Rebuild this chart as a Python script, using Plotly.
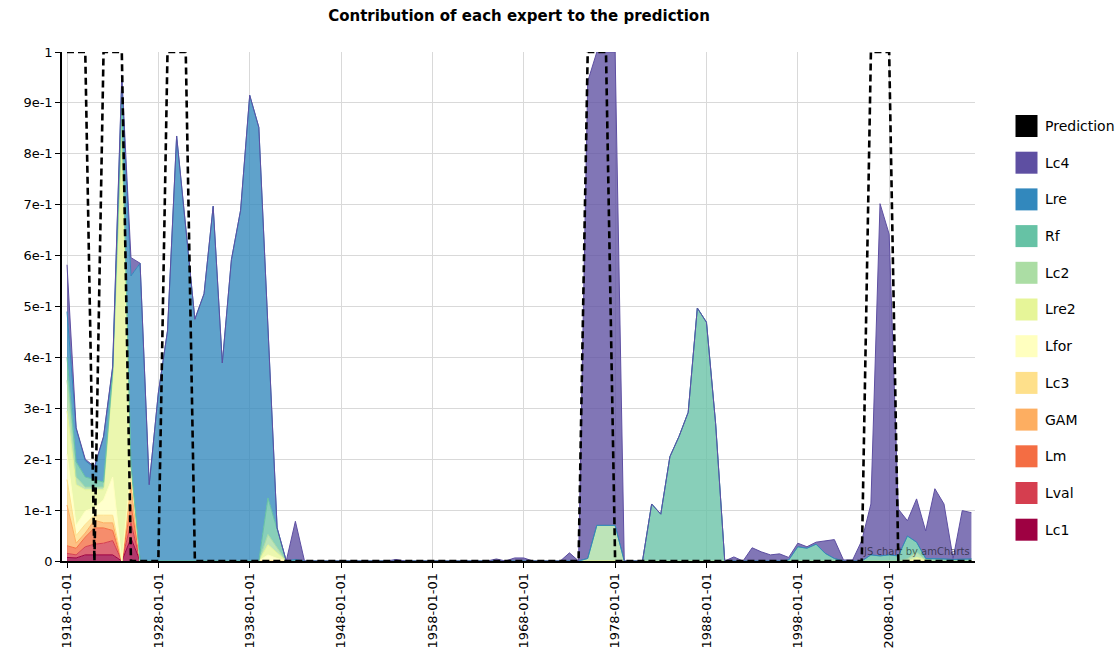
import plotly.graph_objects as go

# ---------------- data (1918 .. 2017, yearly) ----------------
first_year = 1918
n_years = 100
dates = [f"{first_year + i}-01-01" for i in range(n_years)]

Lc1 = [0.007, 0.006, 0.012, 0.012, 0.012, 0.012, 0, 0.045, 0, 0,
       0, 0, 0, 0, 0, 0, 0, 0, 0, 0,
       0, 0, 0, 0, 0, 0, 0, 0, 0, 0,
       0, 0, 0, 0, 0, 0, 0, 0, 0, 0,
       0, 0, 0, 0, 0, 0, 0, 0, 0, 0,
       0, 0, 0, 0, 0, 0, 0, 0, 0, 0,
       0, 0, 0, 0, 0, 0, 0, 0, 0, 0,
       0, 0, 0, 0, 0, 0, 0, 0, 0, 0,
       0, 0, 0, 0, 0, 0, 0, 0, 0, 0,
       0, 0, 0, 0, 0, 0, 0, 0, 0, 0]
Lval = [0.008, 0.006, 0.016, 0.021, 0.023, 0.028, 0, 0.03, 0, 0,
        0, 0, 0, 0, 0, 0, 0, 0, 0, 0,
        0, 0, 0, 0, 0, 0, 0, 0, 0, 0,
        0, 0, 0, 0, 0, 0, 0, 0, 0, 0,
        0, 0, 0, 0, 0, 0, 0, 0, 0, 0,
        0, 0, 0, 0, 0, 0, 0, 0, 0, 0,
        0, 0, 0, 0, 0, 0, 0, 0, 0, 0,
        0, 0, 0, 0, 0, 0, 0, 0, 0, 0,
        0, 0, 0, 0, 0, 0, 0, 0, 0, 0,
        0, 0, 0, 0, 0, 0, 0, 0, 0, 0]
Lm = [0.015, 0.013, 0.019, 0.032, 0.03, 0.02, 0, 0.035, 0, 0,
      0, 0, 0, 0, 0, 0, 0, 0, 0, 0,
      0, 0, 0, 0, 0, 0, 0, 0, 0, 0,
      0, 0, 0, 0, 0, 0, 0, 0, 0, 0,
      0, 0, 0, 0, 0, 0, 0, 0, 0, 0,
      0, 0, 0, 0, 0, 0, 0, 0, 0, 0,
      0, 0, 0, 0, 0, 0, 0, 0, 0, 0,
      0, 0, 0, 0, 0, 0, 0, 0, 0, 0,
      0, 0, 0, 0, 0, 0, 0, 0, 0, 0,
      0, 0, 0, 0, 0, 0, 0, 0, 0, 0]
GAM = [0.08, 0.01, 0.008, 0.015, 0.01, 0.015, 0, 0.04, 0, 0,
       0, 0, 0, 0, 0, 0, 0, 0, 0, 0,
       0, 0, 0, 0, 0, 0, 0, 0, 0, 0,
       0, 0, 0, 0, 0, 0, 0, 0, 0, 0,
       0, 0, 0, 0, 0, 0, 0, 0, 0, 0,
       0, 0, 0, 0, 0, 0, 0, 0, 0, 0,
       0, 0, 0, 0, 0, 0, 0, 0, 0, 0,
       0, 0, 0, 0, 0, 0, 0, 0, 0, 0,
       0, 0, 0, 0, 0, 0, 0, 0, 0, 0,
       0, 0, 0, 0, 0, 0, 0, 0, 0, 0]
Lc3 = [0.05, 0.015, 0.017, 0.01, 0.015, 0.015, 0, 0.02, 0, 0,
       0, 0, 0, 0, 0, 0, 0, 0, 0, 0,
       0, 0, 0, 0, 0, 0, 0, 0, 0, 0,
       0, 0, 0, 0, 0, 0, 0, 0, 0, 0,
       0, 0, 0, 0, 0, 0, 0, 0, 0, 0,
       0, 0, 0, 0, 0, 0, 0, 0, 0, 0,
       0, 0, 0, 0, 0, 0, 0, 0, 0, 0,
       0, 0, 0, 0, 0, 0, 0, 0, 0, 0,
       0, 0, 0, 0, 0, 0, 0, 0, 0, 0,
       0, 0, 0, 0, 0, 0, 0, 0, 0, 0]
Lfor = [0.05, 0.02, 0.026, 0.015, 0.03, 0.075, 0, 0.01, 0, 0,
        0, 0, 0, 0, 0, 0, 0, 0, 0, 0,
        0, 0, 0.012, 0.005, 0, 0, 0, 0, 0, 0,
        0, 0, 0, 0, 0, 0, 0, 0, 0, 0,
        0, 0, 0, 0, 0, 0, 0, 0, 0, 0,
        0, 0, 0, 0, 0, 0, 0, 0, 0, 0,
        0, 0, 0, 0, 0, 0, 0, 0, 0, 0,
        0, 0, 0, 0, 0, 0, 0, 0, 0, 0,
        0, 0, 0, 0, 0, 0, 0, 0, 0, 0,
        0, 0, 0, 0, 0, 0, 0, 0, 0, 0]
Lre2 = [0.085, 0.08, 0.042, 0.035, 0.02, 0.195, 0.84, 0.01, 0, 0,
        0, 0, 0, 0, 0, 0, 0, 0, 0, 0,
        0, 0, 0.02, 0.01, 0, 0, 0, 0, 0, 0,
        0, 0, 0, 0, 0, 0, 0, 0, 0, 0,
        0, 0, 0, 0, 0, 0, 0, 0, 0, 0,
        0, 0, 0, 0, 0, 0, 0, 0, 0, 0,
        0, 0, 0, 0, 0, 0, 0, 0, 0, 0,
        0, 0, 0, 0, 0, 0, 0, 0, 0, 0,
        0, 0, 0, 0, 0, 0, 0, 0, 0, 0,
        0, 0, 0, 0.007, 0.002, 0, 0, 0, 0, 0]
Lc2 = [0.06, 0.015, 0.005, 0.005, 0.005, 0.005, 0.02, 0, 0, 0,
       0, 0, 0, 0, 0, 0, 0, 0, 0, 0,
       0, 0, 0.02, 0.01, 0, 0, 0, 0, 0, 0,
       0, 0, 0, 0, 0, 0, 0, 0, 0, 0,
       0, 0, 0, 0, 0, 0, 0, 0, 0, 0,
       0, 0, 0, 0, 0, 0, 0, 0.005, 0.07, 0.07,
       0.07, 0, 0, 0, 0, 0, 0, 0, 0, 0,
       0, 0, 0, 0, 0, 0, 0, 0, 0, 0,
       0, 0, 0, 0, 0, 0, 0, 0, 0, 0,
       0, 0, 0.004, 0.01, 0, 0, 0, 0, 0, 0]
Rf = [0.045, 0.03, 0.02, 0.015, 0.01, 0.007, 0.04, 0, 0, 0,
      0, 0, 0, 0, 0, 0, 0, 0, 0, 0,
      0, 0, 0.072, 0.035, 0, 0, 0, 0, 0, 0,
      0, 0, 0, 0, 0, 0, 0, 0, 0, 0,
      0, 0, 0, 0, 0, 0, 0, 0, 0, 0,
      0, 0, 0, 0, 0, 0, 0, 0, 0, 0,
      0, 0, 0, 0, 0.112, 0.092, 0.205, 0.245, 0.292, 0.497,
      0.469, 0.27, 0, 0, 0, 0, 0, 0, 0, 0.002,
      0.028, 0.025, 0.033, 0.015, 0.005, 0, 0, 0, 0.012, 0.01,
      0.012, 0.01, 0.045, 0.02, 0.003, 0.005, 0.004, 0.003, 0.004, 0.004]
Lre = [0.09, 0.065, 0.032, 0.023, 0.088, 0.008, 0.045, 0.37, 0.585, 0.15,
       0.33, 0.452, 0.835, 0.65, 0.475, 0.525, 0.697, 0.389, 0.592, 0.689,
       0.915, 0.852, 0.33, 0.005, 0, 0.003, 0, 0, 0, 0,
       0, 0, 0, 0, 0, 0, 0, 0, 0, 0,
       0, 0, 0, 0, 0, 0, 0, 0, 0, 0,
       0, 0, 0, 0, 0, 0, 0, 0, 0, 0,
       0, 0, 0, 0, 0, 0, 0, 0, 0, 0,
       0, 0, 0, 0, 0, 0, 0, 0, 0, 0,
       0, 0, 0, 0, 0, 0, 0, 0, 0, 0,
       0, 0, 0, 0, 0, 0, 0, 0, 0, 0]
Lc4 = [0.092, 0.002, 0.003, 0.002, 0.002, 0.002, 0.01, 0.036, 0, 0,
       0, 0, 0, 0, 0, 0, 0, 0, 0, 0,
       0, 0, 0, 0, 0, 0.075, 0, 0, 0, 0,
       0, 0, 0, 0, 0, 0, 0.003, 0, 0, 0,
       0, 0, 0, 0, 0, 0, 0, 0.004, 0, 0.006,
       0.006, 0, 0, 0, 0, 0.016, 0, 0.937, 0.93, 0.93,
       0.93, 0, 0, 0, 0, 0, 0, 0, 0, 0,
       0, 0, 0, 0.008, 0, 0.026, 0.018, 0.012, 0.014, 0.005,
       0.007, 0.003, 0.004, 0.025, 0.037, 0.002, 0.002, 0.04, 0.1, 0.692,
       0.63, 0.092, 0.03, 0.085, 0.054, 0.137, 0.108, 0.002, 0.095, 0.091]
Prediction = [1, 1, 1, 0, 1, 1, 1, 0, 0, 0,
              0, 1, 1, 1, 0, 0, 0, 0, 0, 0,
              0, 0, 0, 0, 0, 0, 0, 0, 0, 0,
              0, 0, 0, 0, 0, 0, 0, 0, 0, 0,
              0, 0, 0, 0, 0, 0, 0, 0, 0, 0,
              0, 0, 0, 0, 0, 0, 0, 1, 1, 1,
              0, 0, 0, 0, 0, 0, 0, 0, 0, 0,
              0, 0, 0, 0, 0, 0, 0, 0, 0, 0,
              0, 0, 0, 0, 0, 0, 0, 0, 1, 1,
              1, 0, 0, 0, 0, 0, 0, 0, 0, 0]

series_names = ["Lc1", "Lval", "Lm", "GAM", "Lc3", "Lfor", "Lre2", "Lc2", "Rf", "Lre", "Lc4"]
series_values = [Lc1, Lval, Lm, GAM, Lc3, Lfor, Lre2, Lc2, Rf, Lre, Lc4]
series_colors = ["#9e0142", "#d53e4f", "#f46d43", "#fdae61", "#fee08b", "#ffffbf",
                 "#e6f598", "#abdda4", "#66c2a5", "#3288bd", "#5e4fa2"]

x_tick_years = [1918, 1928, 1938, 1948, 1958, 1968, 1978, 1988, 1998, 2008]
y_tick_vals = [0, 0.1, 0.2, 0.3, 0.4, 0.5, 0.6, 0.7, 0.8, 0.9, 1]
y_tick_text = ["0", "1e-1", "2e-1", "3e-1", "4e-1", "5e-1", "6e-1", "7e-1", "8e-1", "9e-1", "1"]

FONT = "DejaVu Sans, Verdana, sans-serif"

# body margin is removed in the page (post_script), so figure fills the window
W, H = 1120, 663
ML, MR, MT, MB = 62, 145, 52, 102
PLOT_W = W - ML - MR
PLOT_H = H - MT - MB


def rgba(hex_color, a):
    h = hex_color.lstrip("#")
    r, g, b = int(h[0:2], 16), int(h[2:4], 16), int(h[4:6], 16)
    return f"rgba({r},{g},{b},{a})"


def px_to_paper_x(px):
    return (px - ML) / PLOT_W


def px_to_paper_y(py):
    return (H - MB - py) / PLOT_H


fig = go.Figure()

# stacked areas (bottom -> top)
for name, vals, col in zip(series_names, series_values, series_colors):
    fig.add_trace(go.Scatter(
        x=dates, y=vals, name=name, mode="lines",
        stackgroup="experts",
        line=dict(color=col, width=1),
        fillcolor=rgba(col, 0.78),
        showlegend=False,
        hoverinfo="x+y+name",
    ))

# prediction dashed line
fig.add_trace(go.Scatter(
    x=dates, y=Prediction, name="Prediction", mode="lines",
    line=dict(color="black", width=2.6, dash="7px,4px"),
    showlegend=False,
))

# legend drawn as square swatches + labels (top to bottom)
legend_names = ["Prediction"] + series_names[::-1]
legend_colors = ["#000000"] + series_colors[::-1]
shapes = []
annotations = []
sq = 22
first_center = 126
step = 36.7
for i, (nm, col) in enumerate(zip(legend_names, legend_colors)):
    cy = first_center + i * step
    shapes.append(dict(
        type="rect", xref="paper", yref="paper",
        x0=px_to_paper_x(1015.5), x1=px_to_paper_x(1015.5 + sq),
        y0=px_to_paper_y(cy + sq / 2), y1=px_to_paper_y(cy - sq / 2),
        fillcolor=col, line=dict(width=0), layer="above",
    ))
    annotations.append(dict(
        text=nm, xref="paper", yref="paper",
        x=px_to_paper_x(1043), y=px_to_paper_y(cy),
        xanchor="left", yanchor="middle", showarrow=False,
        font=dict(family=FONT, size=14, color="#000000"),
    ))

annotations.append(dict(
    text="JS chart by amCharts", xref="paper", yref="paper",
    x=0.997, y=0.004, xanchor="right", yanchor="bottom", showarrow=False,
    font=dict(family=FONT, size=10, color="rgba(0,0,0,0.55)"),
))

fig.update_layout(
    width=W, height=H,
    margin=dict(l=ML, r=MR, t=MT, b=MB),
    paper_bgcolor="white", plot_bgcolor="white",
    font=dict(family=FONT, size=13, color="#000000"),
    title=dict(text="<b>Contribution of each expert to the prediction</b>",
               xref="container", x=519 / W, xanchor="center",
               y=1 - 16 / H, yanchor="middle",
               font=dict(family=FONT, size=15, color="#000000")),
    showlegend=False,
    xaxis=dict(
        type="date",
        range=["1917-06-15", "2017-05-25"],
        tickvals=[f"{y}-01-01" for y in x_tick_years],
        ticktext=[f"{y}-01-01" for y in x_tick_years],
        tickangle=-90,
        ticks="outside", ticklen=5, tickcolor="#000000",
        showgrid=True, gridcolor="#d9d9d9", gridwidth=1,
        showline=True, linecolor="#000000", linewidth=1.5,
        zeroline=False, automargin=False,
        tickfont=dict(family=FONT, size=13),
    ),
    yaxis=dict(
        range=[0, 1],
        tickvals=y_tick_vals, ticktext=y_tick_text,
        ticks="outside", ticklen=5, tickcolor="#000000",
        showgrid=True, gridcolor="#d9d9d9", gridwidth=1,
        showline=True, linecolor="#000000", linewidth=1.5,
        zeroline=False, automargin=False,
        tickfont=dict(family=FONT, size=13),
    ),
    shapes=shapes,
    annotations=annotations,
)

fig.write_html(
    "out.html",
    config={"displayModeBar": False},
    post_script="document.body.style.margin='0';document.body.style.overflow='hidden';",
)
